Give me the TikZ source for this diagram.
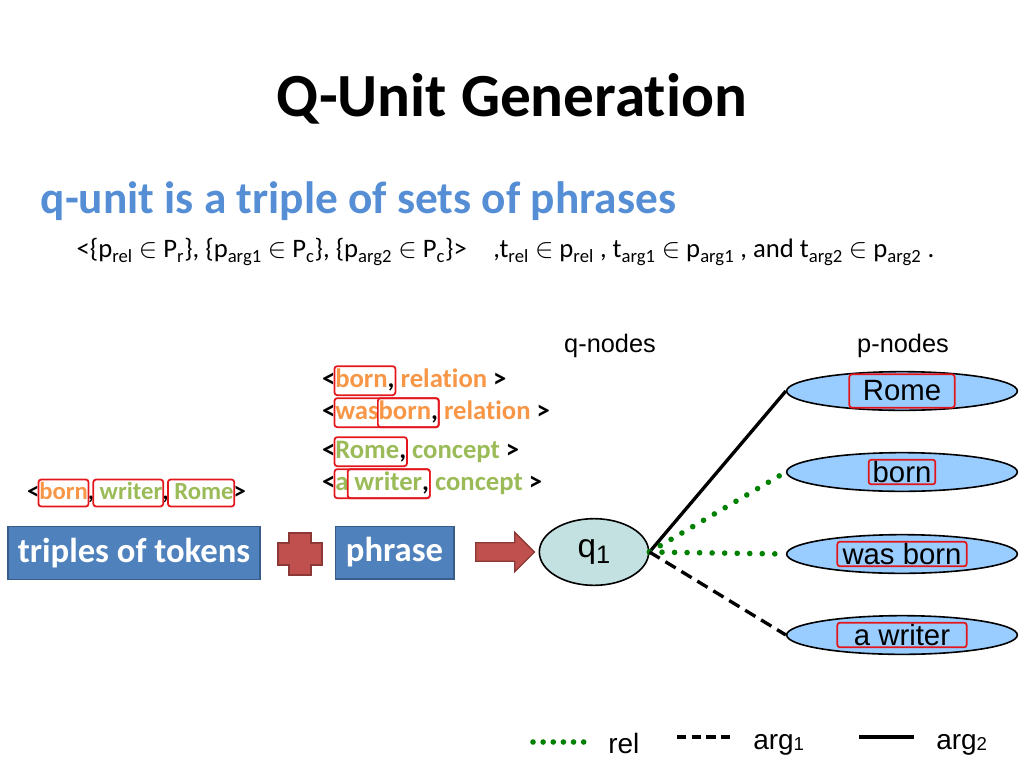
\documentclass[tikz,border=0pt]{standalone}
\usepackage{fontspec}
\setmainfont{Carlito}[Ligatures=NoCommon]
\newfontfamily\arialfont{Liberation Sans}
\usetikzlibrary{positioning, shapes.geometric, shapes.arrows, fit, calc}
\definecolor{slideblue}{HTML}{4F81BD}
\definecolor{headblue}{HTML}{558ED5}
\definecolor{slideborder}{HTML}{385D8A}
\definecolor{slidered}{HTML}{C0504D}
\definecolor{redborder}{HTML}{8C3836}
\definecolor{phorange}{HTML}{F79646}
\definecolor{phgreen}{HTML}{9BBB59}
\definecolor{pfill}{HTML}{99CCFF}
\definecolor{qfill}{HTML}{C4E1E1}
\definecolor{relgreen}{HTML}{008000}
\definecolor{tokred}{HTML}{E3161C}

\begin{document}
\begin{tikzpicture}[x=0.75pt, y=-0.75pt,
    piece/.style={inner sep=0pt, outer sep=0pt, anchor=base west, text height=15pt, text depth=5.5pt,
                  font=\fontsize{20}{24}\selectfont\bfseries},
    tokpiece/.style={piece, text height=14pt, text depth=5pt, font=\fontsize{18.5}{22}\selectfont\bfseries},
    tokbox/.style={draw=tokred, line width=1.3pt, rounded corners=2pt, inner sep=0.6pt},
    blk/.style={fill=slideblue, draw=slideborder, line width=1pt, text=white, minimum height=39.5pt,
                font=\fontsize{26}{30}\selectfont\bfseries},
    pnode/.style={ellipse, draw=black, line width=1.2pt, fill=pfill, minimum width=173pt, minimum height=29pt, inner sep=0pt},
    plabel/.style={draw=tokred, line width=1.3pt, rounded corners=2pt, inner sep=0pt, minimum height=18.5pt,
                   font=\arialfont\fontsize{22}{24}\selectfont},
    arglabel/.style={font=\arialfont\fontsize{19}{22}\selectfont},
    legtext/.style={anchor=base west, inner sep=0pt, font=\arialfont\fontsize{21}{24}\selectfont},
    rel/.style={draw=relgreen, line width=4.2pt, line cap=round, dash pattern=on 0pt off 9.4pt},
    argone/.style={draw=black, line width=2.5pt, dash pattern=on 9pt off 5pt},
    argtwo/.style={draw=black, line width=2.5pt}]
  \useasboundingbox (0,0) rectangle (1024,768);

  % title and definition
  \node[font=\fontsize{46}{52}\selectfont\bfseries] (title) at (512,99) {Q-Unit Generation};
  \node[anchor=west, text=headblue, font=\fontsize{34}{38}\selectfont\bfseries] (def) at (36,201)
    {q-unit is a triple of sets of phrases};
  \node[anchor=west, font=\fontsize{20}{24}\selectfont] (formula) at (72,252)
    {<\{p\textsubscript{rel} $\in$ P\textsubscript{r}\}, \{p\textsubscript{arg1} $\in$ P\textsubscript{c}\}, \{p\textsubscript{arg2} $\in$ P\textsubscript{c}\}>\quad ,t\textsubscript{rel} $\in$ p\textsubscript{rel} , t\textsubscript{arg1} $\in$ p\textsubscript{arg1} , and t\textsubscript{arg2} $\in$ p\textsubscript{arg2} .};

  % triple of tokens
  \node[tokpiece] (t1) at (27,499) {<};
  \node[tokpiece, text=phorange] (t2) at (t1.base east) {born};
  \node[tokpiece] (t3) at (t2.base east) {,};
  \node[tokpiece, text=phgreen] (t4) at (t3.base east) {\ writer};
  \node[tokpiece] (t5) at (t4.base east) {,};
  \node[tokpiece, text=phgreen] (t6) at (t5.base east) {\ Rome};
  \node[tokpiece] (t7) at (t6.base east) {>};
  \node[tokbox, fit=(t2)] {};
  \node[tokbox, fit=(t4)] {};
  \node[tokbox, fit=(t6)] {};

  % phrases
  \node[piece] (r1a) at (322,387) {<};
  \node[piece, text=phorange] (r1b) at (r1a.base east) {born\textcolor{black}{,}};
  \node[piece, text=phorange] (r1c) at (r1b.base east) {\ relation};
  \node[piece] (r1d) at (r1c.base east) {\ >};
  \node[tokbox, fit=(r1b)] {};

  \node[piece] (r2a) at (322,419) {<};
  \node[piece, text=phorange] (r2b) at (r2a.base east) {was\ };
  \node[piece, text=phorange] (r2c) at (r2b.base east) {born\textcolor{black}{,}};
  \node[piece, text=phorange] (r2d) at (r2c.base east) {\ relation};
  \node[piece] (r2e) at (r2d.base east) {\ >};
  \node[tokbox, fit=(r2b)(r2c)] {};
  \node[tokbox, fit=(r2c)] {};

  \node[piece] (r3a) at (322,458) {<};
  \node[piece, text=phgreen] (r3b) at (r3a.base east) {Rome\textcolor{black}{,}};
  \node[piece, text=phgreen] (r3c) at (r3b.base east) {\ concept};
  \node[piece] (r3d) at (r3c.base east) {\ >};
  \node[tokbox, fit=(r3b)] {};

  \node[piece] (r4a) at (322,490) {<};
  \node[piece, text=phgreen] (r4b) at (r4a.base east) {a};
  \node[piece, text=phgreen] (r4c) at (r4b.base east) {\ writer\textcolor{black}{,}};
  \node[piece, text=phgreen] (r4d) at (r4c.base east) {\ concept};
  \node[piece] (r4e) at (r4d.base east) {\ >};
  \node[tokbox, fit=(r4b)(r4c)] {};
  \node[tokbox, fit=(r4c)] {};

  % blocks
  \node[blk, minimum width=189pt] (tokens) at (134,553) {triples of tokens};
  \node[blk, minimum width=89pt] (phrase) at (394.5,552.5) {phrase};
  \draw[fill=slidered, draw=redborder, line width=1pt]
    (289,533) -- (311,533) -- (311,543) -- (322,543) -- (322,565) -- (311,565) -- (311,575)
    -- (289,575) -- (289,565) -- (278,565) -- (278,543) -- (289,543) -- cycle;
  \node[single arrow, fill=slidered, draw=redborder, line width=1pt, minimum width=28.5pt,
        minimum height=44pt, single arrow head extend=7.9pt, inner xsep=0pt, inner ysep=6.4pt] (arr) at (500.5,552) {};

  % q-node and p-nodes
  \node[arglabel] (qhead) at (610,346) {q-nodes};
  \node[arglabel] (phead) at (903,346) {p-nodes};
  \node[ellipse, draw=black, line width=1.2pt, fill=qfill, minimum width=82pt, minimum height=50pt,
        inner sep=0pt, font=\arialfont\fontsize{25}{27}\selectfont] (q1) at (594,552)
    {q\raisebox{-0.35ex}{\fontsize{19}{19}\selectfont 1}};
  \node[pnode] (prome) at (902,391) {};
  \node[pnode] (pborn) at (902,472) {};
  \node[pnode] (pwas) at (902,554) {};
  \node[pnode] (pwriter) at (902,635) {};
  \node[plabel, minimum width=79pt, minimum height=25pt] at (prome) {Rome};
  \node[plabel, minimum width=50pt] at (pborn) {born};
  \node[plabel, minimum width=97pt] at (pwas) {was born};
  \node[plabel, minimum width=97pt] at (pwriter) {a writer};

  \draw[argtwo] (q1.east) -- (prome.west);
  \draw[rel] (q1.east) -- (pborn.west);
  \draw[rel] (q1.east) -- (pwas.west);
  \draw[argone] (q1.east) -- (pwriter.west);

  % legend
  \coordinate (relA) at (533,742);
  \coordinate (relB) at (584,742);
  \coordinate (oneA) at (677,737);
  \coordinate (oneB) at (733,737);
  \coordinate (twoA) at (859,737);
  \coordinate (twoB) at (914,737);
  \draw[rel, dash pattern=on 0pt off 7.6pt] (relA) -- (relB);
  \draw[argone, dash pattern=on 7pt off 4pt] (oneA) -- (oneB);
  \draw[argtwo] (twoA) -- (twoB);
  \node[legtext] (lrel) at (608,753) {rel};
  \node[legtext] (lone) at (753,749) {arg\raisebox{-0.1ex}{\fontsize{14}{14}\selectfont 1}};
  \node[legtext] (ltwo) at (936,749) {arg\raisebox{-0.1ex}{\fontsize{14}{14}\selectfont 2}};
\end{tikzpicture}
\end{document}
